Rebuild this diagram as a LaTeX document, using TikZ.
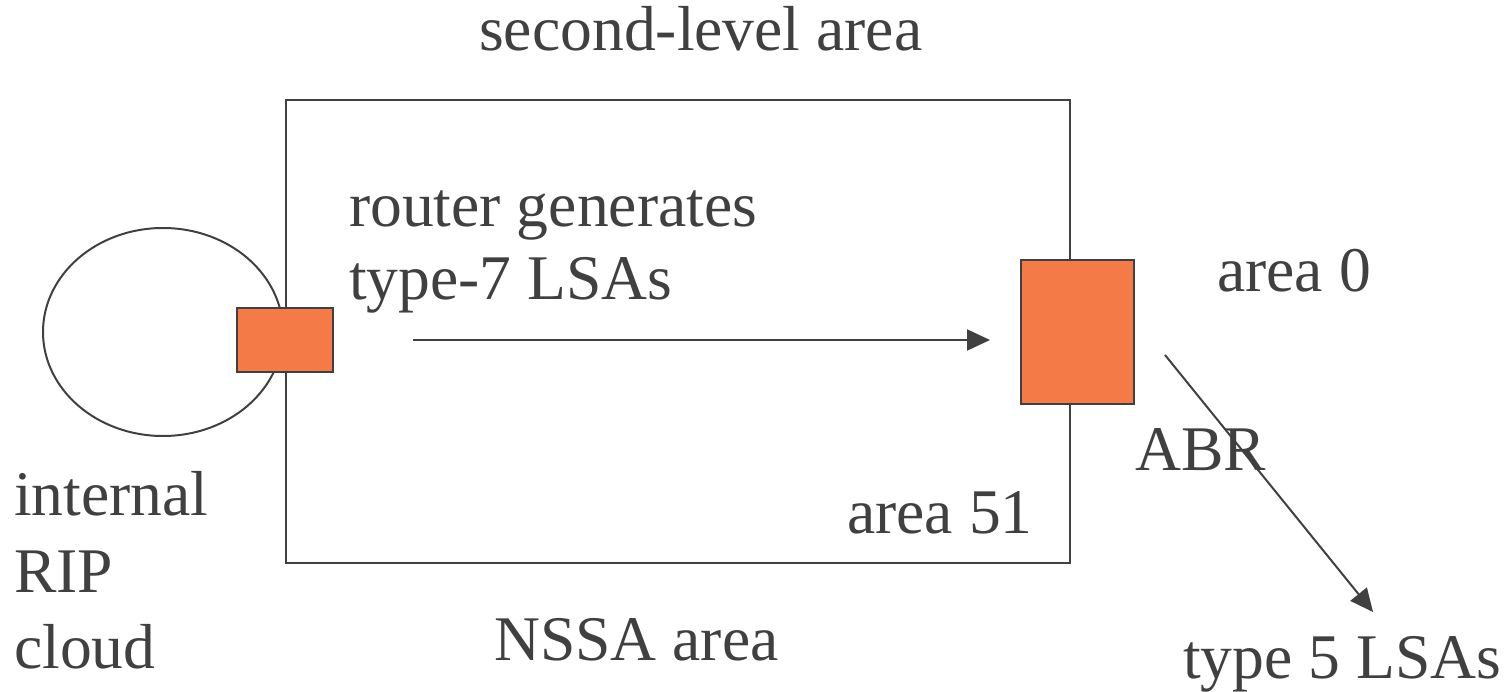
\documentclass[tikz,border=0pt]{standalone}
\usepackage{fontspec}
\setmainfont{Liberation Serif}
\usetikzlibrary{arrows.meta}
\definecolor{ink}{HTML}{404040}
\definecolor{router}{HTML}{F47B48}
\tikzset{
  lbl/.style={anchor=base west, inner sep=0pt, text=ink, font=\fontsize{63.6}{76}\selectfont},
  rbox/.style={draw=ink, line width=2pt, fill=router},
  edge/.style={draw=ink, line width=2pt},
  flow/.style={draw=ink, line width=2pt, -{Triangle[length=23pt,width=21pt]}},
}
\begin{document}
\begin{tikzpicture}[x=1pt,y=-1pt]
\useasboundingbox (0,0) rectangle (1511,692);
% area rectangle and cloud
\draw[edge] (286,100) rectangle (1070,563);
\draw[edge] (163,332) ellipse [x radius=120, y radius=104];
% routers
\node[rbox, minimum width=96pt, minimum height=64pt, inner sep=0pt] (asbr) at (285,340) {};
\node[rbox, minimum width=113pt, minimum height=144pt, inner sep=0pt] (abr) at (1077.5,332) {};
% arrows
\coordinate (a1s) at (413,340);
\coordinate (a1e) at (990,340);
\draw[flow] (a1s) -- (a1e);
\coordinate (a2s) at (1165,355);
\coordinate (a2e) at (1373,612);
\draw[flow] (a2s) -- (a2e);
% labels
\node[lbl] (sla) at (479,51) {second-level area};
\node[lbl] (rg1) at (349,227) {router generates};
\node[lbl] (rg2) at (349,299) {type-7 LSAs};
\node[lbl] (a0) at (1217,292) {area 0};
\node[lbl] (abrl) at (1135,470) {ABR};
\node[lbl] (a51) at (847,533) {area 51};
\node[lbl] (int) at (14,515) {internal};
\node[lbl] (rip) at (14,592) {RIP};
\node[lbl] (cld) at (14,668) {cloud};
\node[lbl] (nssa) at (494,660) {NSSA area};
\node[lbl] (t5) at (1183,678) {type 5 LSAs};
\end{tikzpicture}
\end{document}
